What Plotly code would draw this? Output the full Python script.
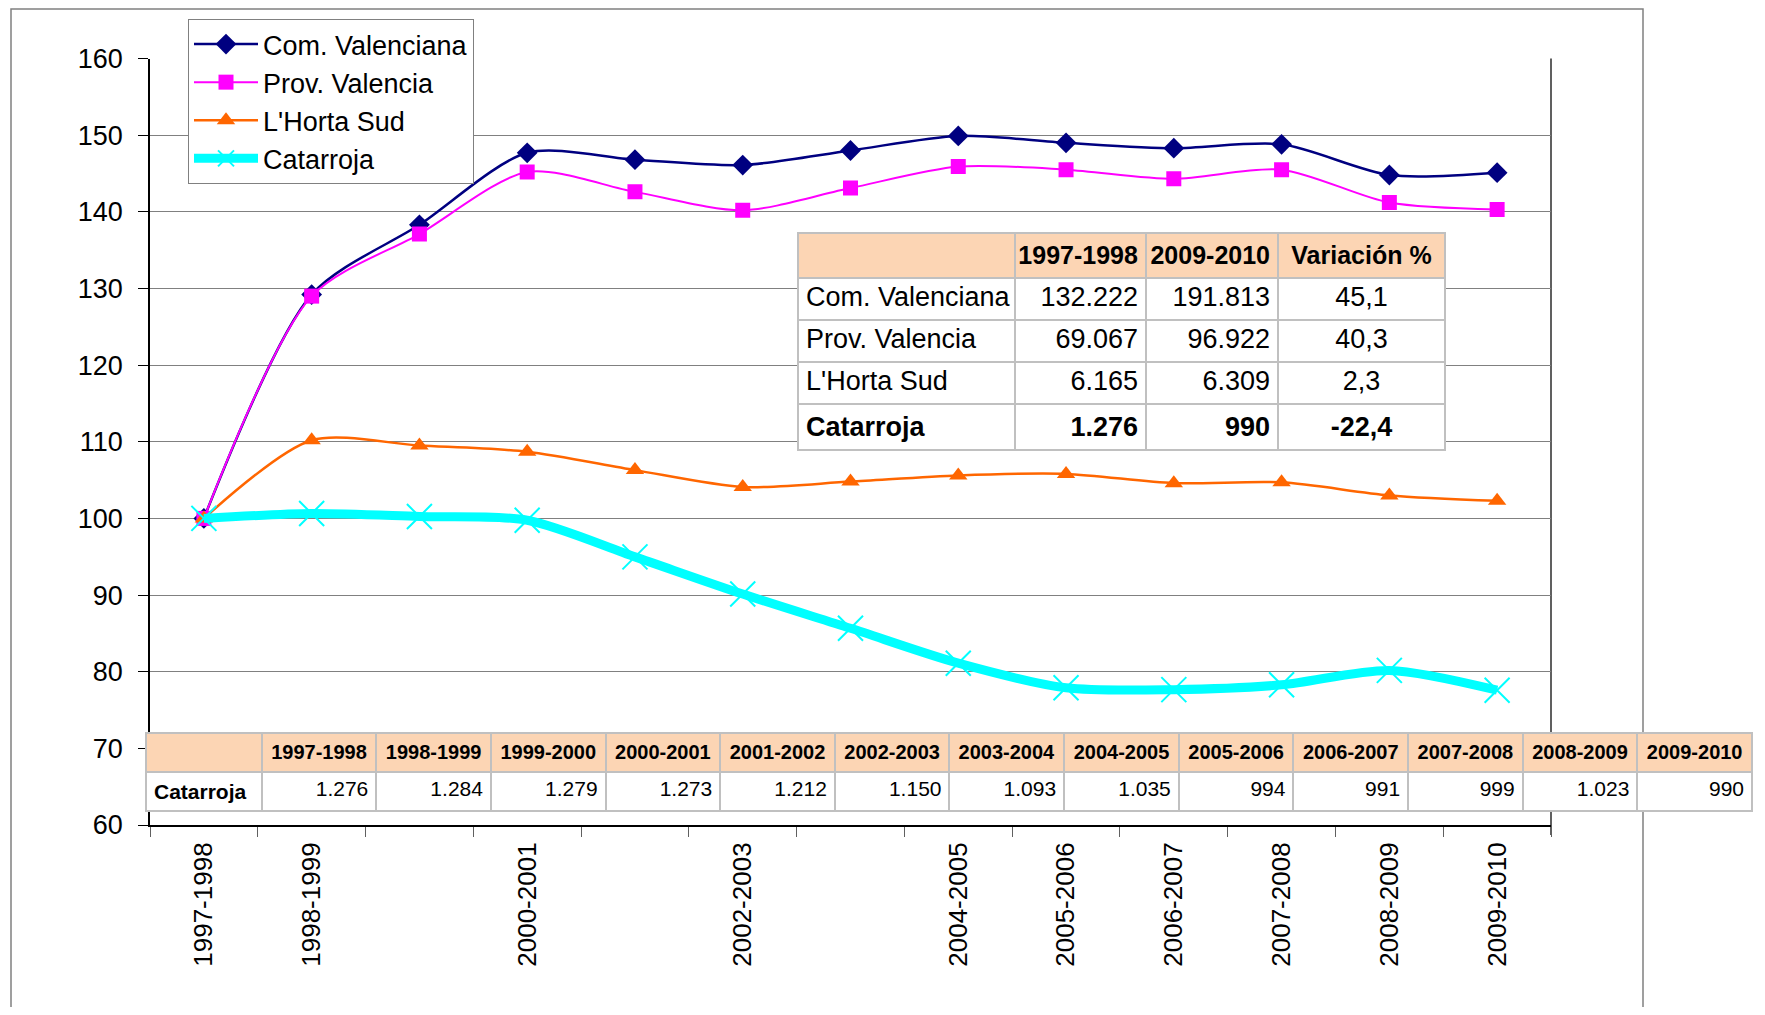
import plotly.graph_objects as go

categories = ["1997-1998", "1998-1999", "1999-2000", "2000-2001", "2001-2002", "2002-2003",
              "2003-2004", "2004-2005", "2005-2006", "2006-2007", "2007-2008", "2008-2009", "2009-2010"]
shown_labels = ["1997-1998", "1998-1999", "2000-2001", "2002-2003", "2004-2005", "2005-2006",
                "2006-2007", "2007-2008", "2008-2009", "2009-2010"]

com_valenciana = [100, 129.2, 138.3, 147.7, 146.8, 146.1, 148.0, 149.9, 149.0, 148.3, 148.8, 144.8, 145.1]
prov_valencia = [100, 129.0, 137.1, 145.2, 142.6, 140.2, 143.1, 145.9, 145.5, 144.3, 145.5, 141.2, 140.3]
horta_sud = [100, 110.2, 109.5, 108.7, 106.3, 104.1, 104.8, 105.6, 105.8, 104.6, 104.7, 103.0, 102.3]
catarroja = [100, 100.63, 100.24, 99.76, 94.98, 90.13, 85.66, 81.11, 77.90, 77.66, 78.29, 80.17, 77.59]

catarroja_alumnos = ["1.276", "1.284", "1.279", "1.273", "1.212", "1.150", "1.093",
                     "1.035", "994", "991", "999", "1.023", "990"]

summary_names = ["Com. Valenciana", "Prov. Valencia", "L'Horta Sud", "Catarroja"]
summary_1997 = ["132.222", "69.067", "6.165", "1.276"]
summary_2009 = ["191.813", "96.922", "6.309", "990"]
summary_var = ["45,1", "40,3", "2,3", "-22,4"]

# page is 1765x1015 with an 8px body margin -> figure 1749x999
OFF = 8
W, H = 1749, 999
SANS = "Liberation Sans, Arial, sans-serif"
PEACH = "#FCD5B4"
GRID = "#808080"
CELL_LINE = "#C0C0C0"

x_idx = list(range(len(categories)))


def px(x):
    return (x - OFF) / W


def py(y):
    return 1 - (y - OFF) / H


def nb(v):
    # non-breaking spaces so table cells never wrap
    return v.replace(" ", "\u00a0")


def bold(v):
    return "<b>" + nb(v) + "</b>"


fig = go.Figure()

fig.add_trace(go.Scatter(
    x=x_idx, y=com_valenciana, name="Com. Valenciana", mode="lines+markers",
    line=dict(color="#000080", width=2.5, shape="spline", smoothing=0.8),
    marker=dict(symbol="diamond", size=16, color="#000080")))
fig.add_trace(go.Scatter(
    x=x_idx, y=prov_valencia, name="Prov. Valencia", mode="lines+markers",
    line=dict(color="#FF00FF", width=2, shape="spline", smoothing=0.8),
    marker=dict(symbol="square", size=15, color="#FF00FF")))
fig.add_trace(go.Scatter(
    x=x_idx, y=horta_sud, name="L'Horta Sud", mode="lines+markers",
    line=dict(color="#FF6600", width=2.5, shape="spline", smoothing=0.8),
    marker=dict(symbol="triangle-up", size=16, color="#FF6600")))
fig.add_trace(go.Scatter(
    x=x_idx, y=catarroja, name="Catarroja", mode="lines+markers",
    line=dict(color="#00FFFF", width=9, shape="spline", smoothing=0.8),
    marker=dict(symbol="x-thin-open", size=25, color="#00FFFF",
                line=dict(color="#00FFFF", width=2))))

# summary table
fig.add_trace(go.Table(
    domain=dict(x=[px(798), px(1445)], y=[py(460), py(233)]),
    columnwidth=[217, 131, 132, 167],
    header=dict(
        values=["", bold("1997-1998"), bold("2009-2010"), bold("Variación %")],
        fill_color=PEACH, line=dict(color=CELL_LINE, width=2),
        align=["left", "right", "right", "center"],
        font=dict(family=SANS, size=25, color="black"), height=45),
    cells=dict(
        values=[[nb(v) for v in summary_names[:3]] + [bold(summary_names[3])],
                summary_1997[:3] + [bold(summary_1997[3])],
                summary_2009[:3] + [bold(summary_2009[3])],
                summary_var[:3] + [bold(summary_var[3])]],
        fill_color="white", line=dict(color=CELL_LINE, width=2),
        align=["left", "right", "right", "center"],
        font=dict(family=SANS, size=27, color="black"), height=42)))

# bottom data table
fig.add_trace(go.Table(
    domain=dict(x=[px(146), px(1753)], y=[py(820), py(733)]),
    columnwidth=[116] + [115] * len(categories),
    header=dict(
        values=[""] + [bold(c) for c in categories],
        fill_color=PEACH, line=dict(color=CELL_LINE, width=2),
        align="center", font=dict(family=SANS, size=20, color="black"), height=39),
    cells=dict(
        values=[[bold("Catarroja")]] + [[v] for v in catarroja_alumnos],
        fill_color="white", line=dict(color=CELL_LINE, width=2),
        align=["left"] + ["right"] * len(categories),
        font=dict(family=SANS, size=21, color="black"), height=38)))

fig.update_layout(
    width=W, height=H, margin=dict(l=0, r=0, t=0, b=0, autoexpand=False),
    paper_bgcolor="white", plot_bgcolor="white",
    showlegend=True,
    legend=dict(x=px(188), y=py(19), xanchor="left", yanchor="top",
                bgcolor="white", bordercolor="#808080", borderwidth=1,
                font=dict(family=SANS, size=27, color="black"),
                itemwidth=64, tracegroupgap=0),
    xaxis=dict(domain=[px(150), px(1551)], range=[-0.5, 12.5],
               tickmode="array",
               tickvals=[categories.index(c) for c in shown_labels],
               ticktext=shown_labels, tickangle=-90, ticks="",
               ticklabelstandoff=5, automargin=False,
               tickfont=dict(family=SANS, size=26, color="black"),
               showgrid=False, zeroline=False,
               showline=True, linecolor="black", linewidth=2,
               minor=dict(tickmode="array", tickvals=[i - 0.5 for i in range(len(categories) + 1)],
                          ticks="outside", ticklen=10, tickcolor="#606060", tickwidth=1,
                          showgrid=False)),
    yaxis=dict(domain=[py(825), py(58.5)], range=[60, 160], dtick=10, tick0=60,
               ticks="outside", ticklen=10, tickcolor="black",
               ticklabelstandoff=10, automargin=False,
               tickfont=dict(family=SANS, size=27, color="black"),
               showgrid=True, gridcolor=GRID, gridwidth=1, zeroline=False,
               showline=True, linecolor="black", linewidth=1.5),
    shapes=[
        dict(type="rect", xref="paper", yref="paper", x0=px(11), x1=px(1643), y0=py(1040), y1=py(9),
             line=dict(color="#808080", width=1.5), fillcolor="rgba(0,0,0,0)", layer="below"),
        dict(type="line", xref="paper", yref="paper", x0=px(1551), x1=px(1551), y0=py(835), y1=py(58.5),
             line=dict(color="#606060", width=2), layer="below"),
    ],
)

fig.write_html("out.html")
